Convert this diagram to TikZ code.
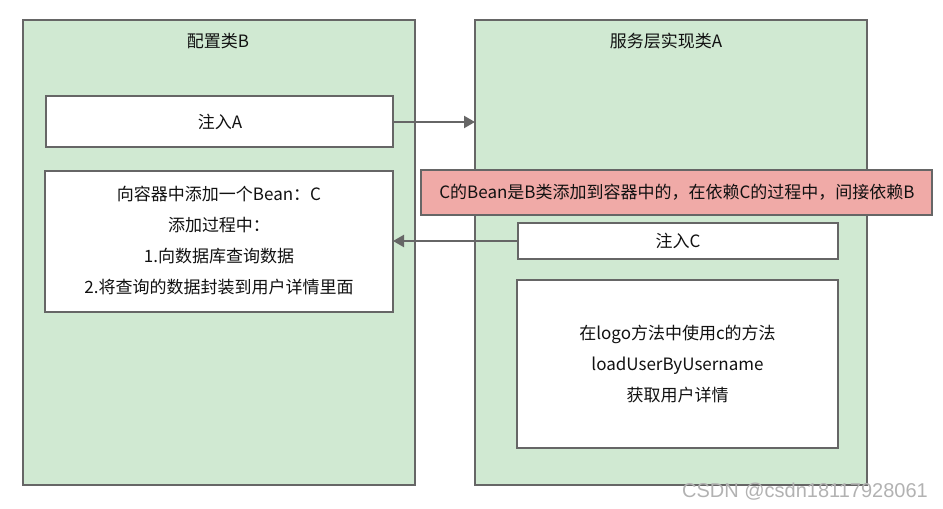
\documentclass[tikz,border=0pt]{standalone}
\usepackage{fontspec}
\setmainfont{Noto Sans CJK SC}
\newfontfamily\wmfont{Liberation Sans}
\usetikzlibrary{arrows.meta}
\definecolor{panelgreen}{HTML}{D0E9D2}
\definecolor{linegray}{HTML}{666666}
\definecolor{notered}{HTML}{F0AAA7}
\definecolor{txt}{HTML}{111111}
\tikzset{
  panel/.style={draw=linegray, line width=2.2pt, fill=panelgreen},
  wbox/.style={draw=linegray, line width=2.2pt, fill=white},
  note/.style={draw=linegray, line width=2.2pt, fill=notered},
  lbl/.style={font=\fontsize{17}{20}\selectfont, text=txt, inner sep=0pt},
  conn/.style={draw=linegray, line width=2.2pt, -{Triangle[length=11pt,width=12pt]}},
}
\begin{document}
\begin{tikzpicture}[x=1pt,y=-1pt]
\useasboundingbox (0,0) rectangle (943,509);
% panels
\draw[panel] (23,20) rectangle (415,485);
\draw[panel] (475,20) rectangle (867,485);
\node[lbl] (tB) at (218,41) {配置类B};
\node[lbl] (tA) at (666,41) {服务层实现类A};
% left boxes
\draw[wbox] (46,96) rectangle (393,147);
\node[lbl] (injA) at (220,121.5) {注入A};
\coordinate (injAr) at (393,122);
\draw[wbox] (45,171) rectangle (393,312);
\node[lbl, align=center] (addC) at (219,241) {向容器中添加一个Bean：C\\[11pt]添加过程中：\\[11pt]1.向数据库查询数据\\[11pt]2.将查询的数据封装到用户详情里面};
\coordinate (addCr) at (393,241);
% right boxes
\coordinate (Aleft) at (475,122);
\draw[wbox] (518,223) rectangle (838,259);
\node[lbl] (injC) at (678,241) {注入C};
\coordinate (injCl) at (518,241);
\draw[wbox] (517,280) rectangle (838,448);
\node[lbl, align=center] (use) at (677.5,364) {在logo方法中使用c的方法\\[11pt]loadUserByUsername\\[11pt]获取用户详情};
% note
\draw[note] (421,170) rectangle (932,215);
\node[lbl] (noteT) at (677,192) {C的Bean是B类添加到容器中的，在依赖C的过程中，间接依赖B};
% connectors
\draw[conn] (injAr) -- (Aleft);
\draw[conn] (injCl) -- (addCr);
% watermark
\node[font=\wmfont\fontsize{20}{22}\selectfont, text=black!30, anchor=east, inner sep=0pt] (wm) at (928,492) {CSDN @csdn18117928061};
\end{tikzpicture}
\end{document}
